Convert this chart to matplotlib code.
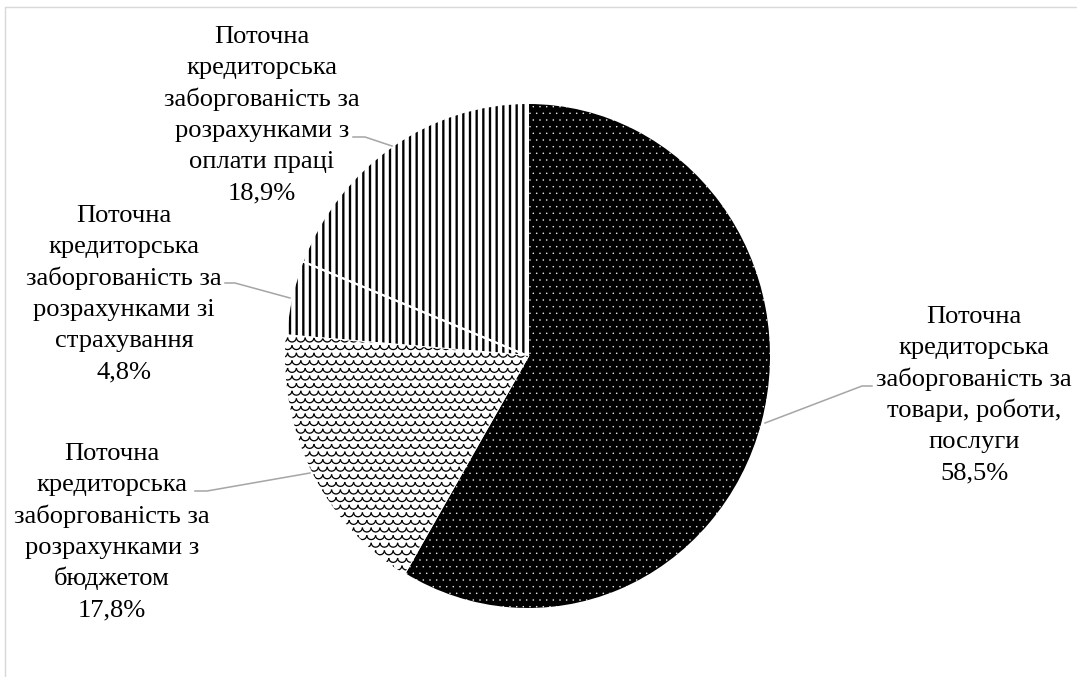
import matplotlib
matplotlib.use("Agg")
import matplotlib.pyplot as plt
import numpy as np
from matplotlib.patches import Wedge
from matplotlib.collections import LineCollection

# ---------------- data ----------------
categories = [
    ["Поточна", "кредиторська", "заборгованість за", "товари, роботи,", "послуги"],
    ["Поточна", "кредиторська", "заборгованість за", "розрахунками з", "бюджетом"],
    ["Поточна", "кредиторська", "заборгованість за", "розрахунками зі", "страхування"],
    ["Поточна", "кредиторська", "заборгованість за", "розрахунками з", "оплати праці"],
]
shares = [58.5, 17.8, 4.8, 18.9]
pct_labels = ["58,5%", "17,8%", "4,8%", "18,9%"]

# ---------------- layout / style ----------------
W, H, DPI = 1077, 677, 80
FONT = "Liberation Serif"
FS = 23.8
LINE_STEP = 31.3
label_pos = [(974, 323), (112, 460), (124, 222), (262, 43)]   # (center x, first baseline) px
leaders = [
    [(765, 423), (862, 386), (872, 386)],
    [(195, 491), (207, 491), (310, 473)],
    [(225, 283), (235, 283), (290, 298)],
    [(353, 137), (365, 137), (392, 146)],
]
pie_box = (285, 103, 771, 609)  # left, top, right, bottom in px

fig = plt.figure(figsize=(W / DPI, H / DPI), dpi=DPI)
fig.patch.set_facecolor("white")

l, t, r, b = pie_box
ax = fig.add_axes([l / W, 1 - b / H, (r - l) / W, (b - t) / H])
wedges, _ = ax.pie(shares, startangle=90, counterclock=False,
                   colors=["black", "white", "white", "white"],
                   wedgeprops=dict(linewidth=0, edgecolor="white"))
ax.set_aspect("auto")
ax.set_xlim(-1, 1)
ax.set_ylim(-1, 1)
ax.axis("off")

hatch_specs = [("..", "white", 0.15), (None, None, None), ("||", "black", 2.1), ("||", "black", 2.1)]
for w, (h, hc, hlw) in zip(wedges, hatch_specs):
    if h is None:
        continue
    with plt.rc_context({"hatch.linewidth": hlw, "hatch.color": hc}):
        p = Wedge(w.center, w.r, w.theta1, w.theta2, facecolor="none",
                  edgecolor=hc, hatch=h, linewidth=0, zorder=2)
        if hasattr(p, "set_hatch_linewidth"):
            p.set_hatch_linewidth(hlw)
        ax.add_patch(p)

# overlay axes in pixel coordinates
ov = fig.add_axes([0, 0, 1, 1])
ov.set_xlim(0, W)
ov.set_ylim(H, 0)
ov.axis("off")

# fish-scale pattern for the budget slice, clipped to its wedge
segs = []
rad = 4.4
xs = np.arange(270, 560, 2 * rad)
ys = np.arange(330, 620, 7.6)
tt = np.linspace(0, np.pi, 9)
for j, yy in enumerate(ys):
    off = rad if j % 2 else 0
    for xx in xs:
        cx = xx + off
        segs.append(np.column_stack([cx + rad * np.cos(tt), yy + rad * np.sin(tt)]))
lc = LineCollection(segs, colors="black", linewidths=1.15, zorder=2)
ov.add_collection(lc)
lc.set_clip_path(wedges[1])

# white separators between slices
for w in wedges:
    e = Wedge(w.center, w.r, w.theta1, w.theta2, fill=False,
              edgecolor="white", linewidth=1.8, zorder=3)
    ax.add_patch(e)

# border of chart area
ov.plot([5, 5, W], [H, 7, 7], color="#d9d9d9", lw=1.3, solid_capstyle="butt")

# leader lines
for pts in leaders:
    pts = np.array(pts)
    ov.plot(pts[:, 0], pts[:, 1], color="#a6a6a6", lw=1.4)

# labels, one line at a time
for lines, pct, (cx, b1) in zip(categories, pct_labels, label_pos):
    for i, s in enumerate(lines + [pct]):
        ov.text(cx, b1 + i * LINE_STEP, s, ha="center", va="baseline",
                fontsize=FS, family=FONT, color="black")

fig.savefig("out.png", dpi=DPI, facecolor="white")
